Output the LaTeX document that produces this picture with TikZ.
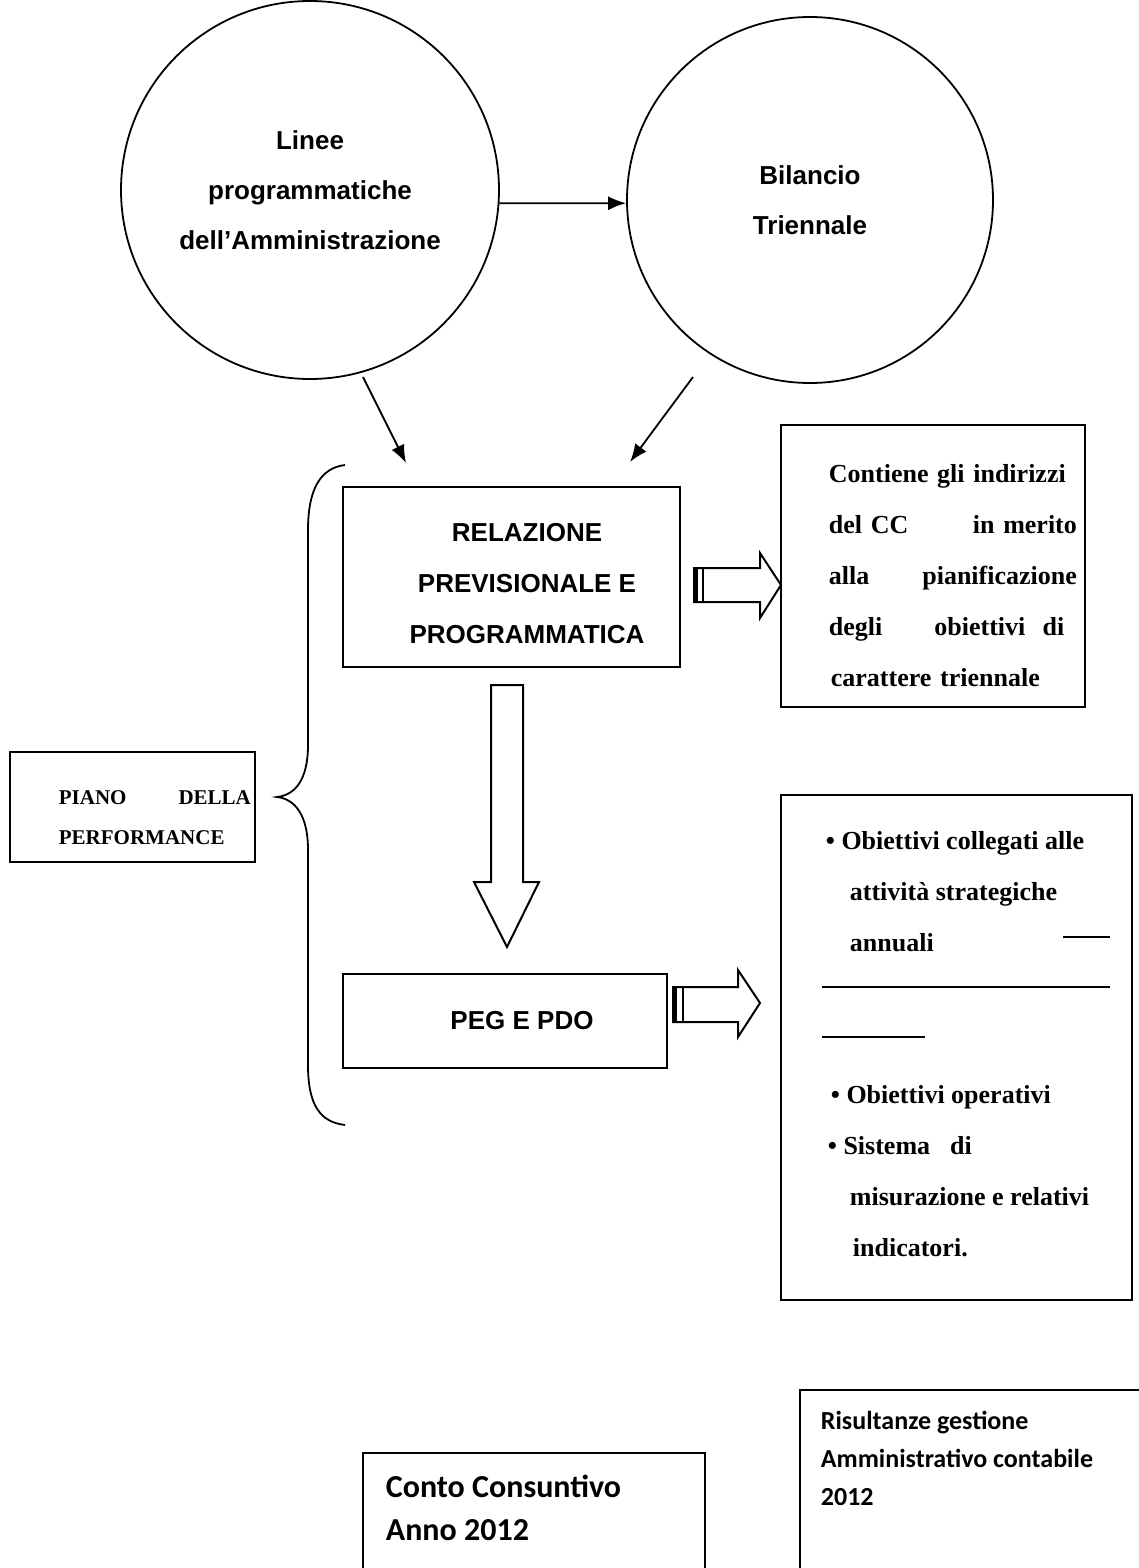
\documentclass[tikz,border=0pt]{standalone}
\usepackage{fontspec}
\setmainfont{Liberation Serif}
\setsansfont{Liberation Sans}
\newfontfamily\carlito{Carlito}
\usetikzlibrary{positioning, arrows.meta}

\begin{document}
\begin{tikzpicture}[x=0.5pt, y=-0.5pt, line width=0.9pt,
  circ/.style={draw, circle, minimum size=#1, inner sep=0pt, align=center, font=\sffamily\bfseries\fontsize{13}{25}\selectfont},
  box/.style={draw, rectangle, inner sep=0pt},
  caps/.style={font=\sffamily\bfseries\fontsize{13}{25.5}\selectfont, align=center, inner sep=0pt},
  times/.style={font=\rmfamily\bfseries\fontsize{13}{25.5}\selectfont, align=left, inner sep=0pt, anchor=west},
  calib/.style={align=left, inner sep=0pt, anchor=west},
  flow/.style={-{Latex[length=9pt, width=7pt]}},
  hollow/.style={draw, fill=white, line width=1pt, line join=miter}]

\useasboundingbox (0,0) rectangle (1139,1568);

% Circles

\node[circ=189pt] (linee) at (310,190) {Linee\\programmatiche\\dell’Amministrazione};
\node[circ=183pt] (bilancio) at (810,200) {Bilancio\\Triennale};

\draw[flow] (linee.-4) -- (bilancio.181);

\coordinate (lineefoot) at (363,377);
\coordinate (bilanciofoot) at (693,377);
\coordinate (relleft) at (406,463);
\coordinate (relright) at (630,462);
\draw[flow] (lineefoot) -- (relleft);
\draw[flow] (bilanciofoot) -- (relright);

% Boxes

\node[box, minimum width=168.5pt, minimum height=90pt] (relazione) at (511.5,577) {};
\node[caps] (relazionetext) at (527,584) {RELAZIONE\\PREVISIONALE E\\PROGRAMMATICA};

\node[box, minimum width=162pt, minimum height=47pt] (peg) at (505,1021) {};
\node[caps] (pegtext) at (522,1021) {PEG E PDO};

\node[box, minimum width=152pt, minimum height=141pt] (contiene) at (933,566) {};
\node[times, text width=124pt] (contienetext) at (828,576)
{Contiene gli indirizzi\\
del CC\hfill in merito\\
alla\hfill pianificazione\\
degli\hspace{26pt}obiettivi\ \ di\\
\hspace*{1pt}carattere triennale};

\node[box, minimum width=122.5pt, minimum height=55pt] (piano) at (132.5,807) {};
\node[times, font=\rmfamily\bfseries\fontsize{10.5}{20}\selectfont, text width=96pt] (pianotext) at (58,818)
{PIANO\hfill DELLA\\PERFORMANCE};

\node[box, minimum width=175.5pt, minimum height=252.5pt] (obiettivi) at (956.5,1047.5) {};
\node[times] (obiettivitext) at (825,892)
{\textbullet\ Obiettivi collegati alle\\
\hspace*{12pt}attività strategiche\\
\hspace*{12pt}annuali};
\node[times] (operativitext) at (827,1171)
{\hspace*{1.5pt}\textbullet\ Obiettivi operativi\\
\textbullet\ Sistema\hspace{10pt}di\\
\hspace*{11pt}misurazione e relativi\\
\hspace*{12.5pt}indicatori.};
\draw[line width=1pt] (1063,937) -- (1110,937);
\draw[line width=1pt] (822,987) -- (1110,987);
\draw[line width=1pt] (822,1037) -- (925,1037);

% Hollow arrows

\draw[hollow] (694,568) -- (760,568) -- (760,553) -- (781,585) -- (760,618) -- (760,602) -- (694,602) -- cycle;
\draw[line width=2.5pt] (695.5,568) -- (695.5,602);
\draw (703,568) -- (703,602);

\draw[hollow] (673,987) -- (738,987) -- (738,970) -- (760,1003) -- (738,1037) -- (738,1022) -- (673,1022) -- cycle;
\draw[line width=2.5pt] (674.5,987) -- (674.5,1022);
\draw (683,987) -- (683,1022);

\draw[hollow] (491,685) -- (523,685) -- (523,882) -- (539,882) -- (507,947) -- (474,882) -- (491,882) -- cycle;

% Brace

\draw (345,465) .. controls (320,468) and (308,490) .. (308,530) -- (308,745)
  .. controls (308,780) and (295,795) .. (277,797)
  .. controls (295,799) and (308,815) .. (308,850) -- (308,1065)
  .. controls (308,1105) and (320,1122) .. (345,1125);

% Bottom boxes

\node[box, minimum width=171pt, minimum height=83.5pt] (consuntivo) at (534,1536.5) {};
\node[calib, font=\carlito\bfseries\fontsize{16}{21.5}\selectfont] (consuntivotext) at (385,1508)
{Conto Consuntivo\\Anno 2012};

\node[box, minimum width=180pt, minimum height=115pt] (risultanze) at (980,1505) {};
\node[calib, font=\carlito\bfseries\fontsize{13}{19}\selectfont] (risultanzetext) at (820,1458)
{Risultanze gestione\\Amministrativo contabile\\2012};

\end{tikzpicture}
\end{document}
